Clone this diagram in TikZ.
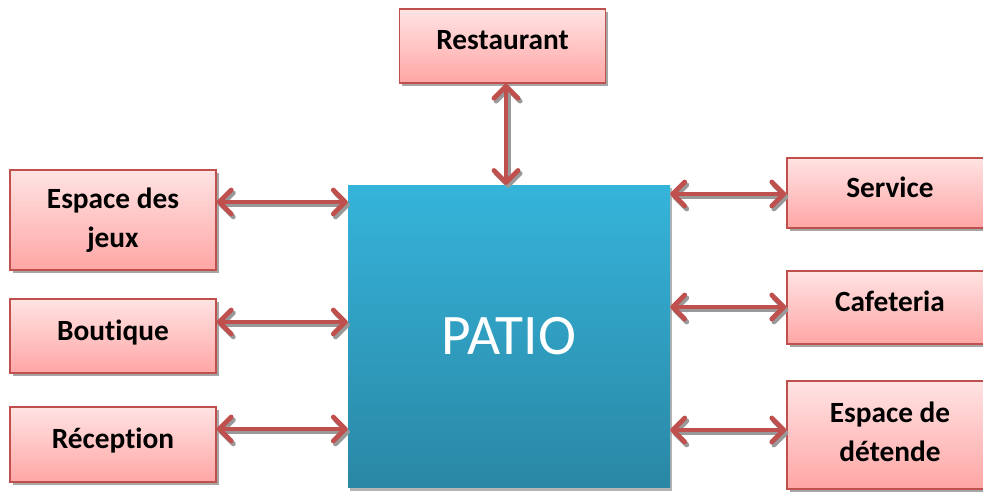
\documentclass[tikz,border=0pt]{standalone}
\usepackage{fontspec}
\setmainfont{Carlito}[Ligatures=NoCommon]
\usetikzlibrary{arrows.meta,shadows}
\definecolor{boxborder}{HTML}{C0504D}
\definecolor{pinktop}{HTML}{FFE3E3}
\definecolor{pinkbot}{HTML}{FFA6A5}
\definecolor{patiotop}{HTML}{35B4DA}
\definecolor{patiobot}{HTML}{2A87A5}
\definecolor{arrcol}{HTML}{C0504D}
\tikzset{
  pinkbox/.style={draw=boxborder, line width=1.2pt, top color=pinktop, bottom color=pinkbot,
    minimum width=154.5pt, align=center, inner sep=2pt,
    font=\fontsize{22}{29}\selectfont\bfseries,
    drop shadow={shadow xshift=2.2pt, shadow yshift=-2.4pt, fill=black!50, opacity=0.7}},
  oneline/.style={text height=15pt, text depth=9pt},
  patiobox/.style={top color=patiotop, bottom color=patiobot, draw=none,
    minimum width=241.5pt, minimum height=227pt,
    font=\fontsize{43}{50}\selectfont, text=white,
    drop shadow={shadow xshift=1.5pt, shadow yshift=-2.5pt, fill=black!50, opacity=0.6}},
  link/.style={draw=arrcol, line width=3.6pt,
    {Straight Barb[length=9pt,width=18pt,line cap=round,line join=round]}-{Straight Barb[length=9pt,width=18pt,line cap=round,line join=round]},
    preaction={draw=black!40, line width=3.6pt, transform canvas={shift={(1.6pt,-2.2pt)}}}},
}
\begin{document}
\begin{tikzpicture}[x=0.75pt,y=-0.75pt]
\useasboundingbox (0,0) rectangle (983,492);
\node[patiobox] (patio) at (509,336.5) {PATIO};
\node[pinkbox, oneline, minimum height=55.5pt] (rest) at (502.5,46) {Restaurant};
\node[pinkbox, minimum height=75pt] (jeux) at (113,220) {Espace des\\jeux};
\node[pinkbox, oneline, minimum height=55.5pt] (bout) at (113,336) {Boutique};
\node[pinkbox, oneline, minimum height=56pt] (recep) at (113,444.5) {Réception};
\node[pinkbox, oneline, minimum height=52.5pt] (serv) at (890,193) {Service};
\node[pinkbox, oneline, minimum height=55pt] (cafe) at (890,307.5) {Cafeteria};
\node[pinkbox, text depth=5pt, minimum height=81pt] (det) at (890,435) {Espace de\\détende};
\coordinate (cv) at (506,0);
\coordinate (l1) at (0,202);
\coordinate (l2) at (0,322);
\coordinate (l3) at (0,429);
\coordinate (r1) at (0,194);
\coordinate (r2) at (0,307);
\coordinate (r3) at (0,430);
\draw[link] (rest.south -| cv) -- (patio.north -| cv);
\draw[link] (jeux.east |- l1) -- (patio.west |- l1);
\draw[link] (bout.east |- l2) -- (patio.west |- l2);
\draw[link] (recep.east |- l3) -- (patio.west |- l3);
\draw[link] (patio.east |- r1) -- (serv.west |- r1);
\draw[link] (patio.east |- r2) -- (cafe.west |- r2);
\draw[link] (patio.east |- r3) -- (det.west |- r3);
\end{tikzpicture}
\end{document}
